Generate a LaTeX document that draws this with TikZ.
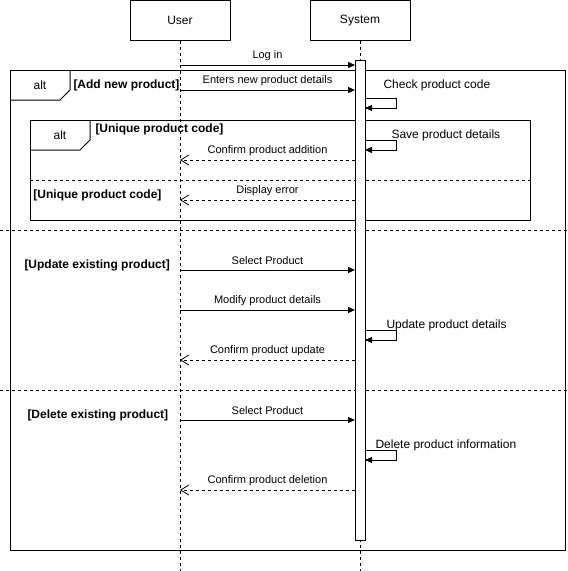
\documentclass[tikz,border=0pt]{standalone}
\usepackage{fontspec}
\setmainfont{Liberation Sans}
\usetikzlibrary{arrows.meta}
\tikzset{
  lifehead/.style={draw, minimum width=100pt, minimum height=40pt, inner sep=0pt, font=\fontsize{12}{14}\selectfont},
  lifeline/.style={dash pattern=on 3pt off 3pt},
  activation/.style={draw, fill=white, minimum width=10pt, minimum height=480pt, inner sep=0pt},
  msg/.style={-{Triangle[length=7pt,width=6pt]}},
  reply/.style={dash pattern=on 3pt off 3pt, -{Straight Barb[length=8pt,width=10pt,line width=0.8pt]}},
  msglabel/.style={font=\fontsize{11}{13}\selectfont, yshift=9pt},
  selflabel/.style={font=\fontsize{12}{14}\selectfont, anchor=west, inner sep=0pt},
  guard/.style={font=\bfseries\fontsize{12}{14}\selectfont, anchor=west, inner sep=0pt},
  tablabel/.style={font=\fontsize{12}{14}\selectfont},
}
\begin{document}
\begin{tikzpicture}[x=1pt, y=-1pt, line width=1pt]
    \useasboundingbox (0,0) rectangle (568,571);
    % Lifelines
    \node[lifehead] (user) at (180,20.5) {User};
    \node[lifehead] (system) at (360,20.5) {System};
    \coordinate (userend) at (180,571);
    \coordinate (systemend) at (360,571);
    \draw[lifeline] (user.south) -- (userend);
    \draw[lifeline] (system.south) -- (systemend);
    % Outer alt frame
    \draw (10,70) rectangle (565,550);
    \draw (10,100) -- (60,100) -- (70,90) -- (70,70);
    \node[tablabel] (altouter) at (40,85) {alt};
    % Inner alt frame
    \draw (30,120) rectangle (530,220);
    \draw (30,150) -- (80,150) -- (90,140) -- (90,120);
    \node[tablabel] (altinner) at (60,135) {alt};
    % Operand separators
    \draw[lifeline] (30,180) -- (530,180);
    \draw[lifeline] (0,230) -- (568,230);
    \draw[lifeline] (0,390) -- (568,390);
    % Guards
    \node[guard] (gadd) at (73,85) {[Add new product]};
    \node[guard] (gunique) at (95,129) {[Unique product code]};
    \node[guard] (gelse) at (33,195) {[Unique product code]};
    \node[guard] (gupdate) at (24,265) {[Update existing product]};
    \node[guard] (gdelete) at (27,415) {[Delete existing product]};
    % Activation bar
    \node[activation] (bar) at (360,300) {};
    % Message end points
    \foreach \n/\y in {login/65, enter/90, confirmadd/160, error/200, select/270,
                       modify/310, confirmupd/360, selectdel/420, confirmdel/490} {
            \coordinate (u-\n) at (180,\y);
            \coordinate (s-\n) at (355,\y);
        }
    % Calls
    \draw[msg] (u-login) -- node[msglabel] {Log in} (s-login);
    \draw[msg] (u-enter) -- node[msglabel] {Enters new product details} (s-enter);
    \draw[msg] (u-select) -- node[msglabel] {Select Product} (s-select);
    \draw[msg] (u-modify) -- node[msglabel] {Modify product details} (s-modify);
    \draw[msg] (u-selectdel) -- node[msglabel] {Select Product} (s-selectdel);
    % Replies
    \draw[reply] (s-confirmadd) -- node[msglabel] {Confirm product addition} (u-confirmadd);
    \draw[reply] (s-error) -- node[msglabel] {Display error} (u-error);
    \draw[reply] (s-confirmupd) -- node[msglabel] {Confirm product update} (u-confirmupd);
    \draw[reply] (s-confirmdel) -- node[msglabel] {Confirm product deletion} (u-confirmdel);
    % Self calls
    \foreach \n/\y in {check/98, save/140, update/330, delete/450} {
            \coordinate (self-\n) at (365,\y);
            \draw[msg] (self-\n) -- ++(31,0) -- ++(0,10) -- ++(-31,0);
        }
    \node[selflabel] (lcheck) at (383,85) {Check product code};
    \node[selflabel] (lsave) at (391,135) {Save product details};
    \node[selflabel] (lupdate) at (386,325) {Update product details};
    \node[selflabel] (ldelete) at (375,445) {Delete product information};
\end{tikzpicture}
\end{document}
